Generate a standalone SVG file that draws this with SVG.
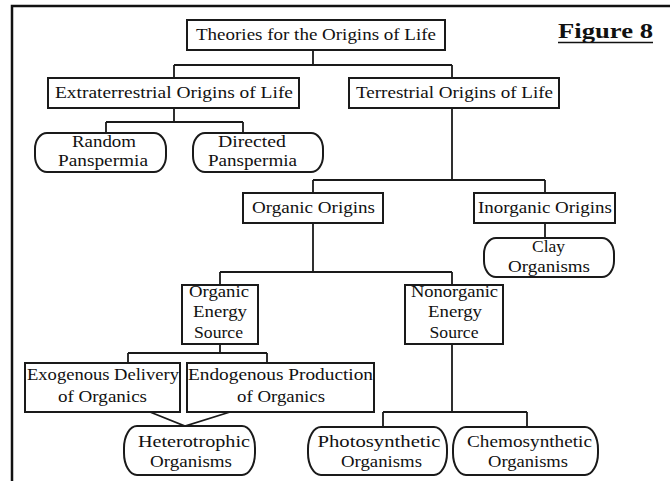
<svg xmlns="http://www.w3.org/2000/svg" width="670" height="481" viewBox="0 0 670 481">
<style>
.bx{fill:#fff;stroke:#1a1a1a;stroke-width:2}
.cn{fill:none;stroke:#1a1a1a;stroke-width:1.8}
.fr{fill:none;stroke:#111;stroke-width:2.5}
text{font-family:"Liberation Serif","DejaVu Serif",serif;font-size:17.5px;fill:#111;text-anchor:middle}
.sm{font-size:16.5px}
.fig{font-weight:bold;font-size:22px;text-anchor:start}
</style>
<rect width="670" height="481" fill="#fff"/>
<path class="fr" d="M12 481 V6 H670"/>
<g id="connectors">
<path class="cn" d="M313 50 V65 M174 65 H452 M174 65 V78 M452 65 V78"/>
<path class="cn" d="M174 108 V122 M106 122 H243 M106 122 V133 M243 122 V133"/>
<path class="cn" d="M452 108 V180 M313 180 H545 M313 180 V193 M545 180 V193"/>
<path class="cn" d="M545 223 V238"/>
<path class="cn" d="M313 223 V272 M220 272 H452 M220 272 V285 M452 272 V285"/>
<path class="cn" d="M220 344 V353 M128 353 H267 M128 353 V363 M267 353 V363"/>
<path class="cn" d="M452 344 V412 M383 412 H527 M383 412 V427 M527 412 V427"/>
<path class="cn" d="M150 412 L185 426 L230 412"/>
</g>
<g id="title">
<rect class="bx" x="187" y="20" width="258" height="30"/>
<text x="316" y="40" textLength="240" lengthAdjust="spacingAndGlyphs">Theories for the Origins of Life</text>
</g>
<g id="figure-label">
<text class="fig" x="558" y="38" textLength="95" lengthAdjust="spacingAndGlyphs">Figure 8</text>
<path d="M558 42.5 H653" stroke="#111" stroke-width="1.6"/>
</g>
<g id="extraterrestrial">
<rect class="bx" x="48" y="78" width="251" height="30"/>
<text x="174" y="98" textLength="238" lengthAdjust="spacingAndGlyphs">Extraterrestrial Origins of Life</text>
</g>
<g id="terrestrial">
<rect class="bx" x="349" y="78" width="210" height="30"/>
<text x="454.5" y="98" textLength="197" lengthAdjust="spacingAndGlyphs">Terrestrial Origins of Life</text>
</g>
<g id="random">
<rect class="bx" x="35" y="133" width="131" height="39" rx="12" ry="16"/>
<text class="sm" x="104" y="147" textLength="64" lengthAdjust="spacingAndGlyphs">Random</text>
<text class="sm" x="103" y="166" textLength="90" lengthAdjust="spacingAndGlyphs">Panspermia</text>
</g>
<g id="directed">
<rect class="bx" x="193" y="133" width="130" height="39" rx="12" ry="16"/>
<text class="sm" x="252" y="147" textLength="68" lengthAdjust="spacingAndGlyphs">Directed</text>
<text class="sm" x="252.5" y="166" textLength="89" lengthAdjust="spacingAndGlyphs">Panspermia</text>
</g>
<g id="organic-origins">
<rect class="bx" x="243" y="193" width="140" height="30"/>
<text x="313.5" y="213" textLength="123" lengthAdjust="spacingAndGlyphs">Organic Origins</text>
</g>
<g id="inorganic-origins">
<rect class="bx" x="474" y="193" width="141" height="30"/>
<text x="545" y="213" textLength="134" lengthAdjust="spacingAndGlyphs">Inorganic Origins</text>
</g>
<g id="clay">
<rect class="bx" x="484" y="238" width="130" height="39" rx="12" ry="16"/>
<text x="548.5" y="252" textLength="33" lengthAdjust="spacingAndGlyphs">Clay</text>
<text x="549" y="272" textLength="82" lengthAdjust="spacingAndGlyphs">Organisms</text>
</g>
<g id="organic-energy">
<rect class="bx" x="182" y="285" width="76" height="59"/>
<text x="219" y="297" textLength="60" lengthAdjust="spacingAndGlyphs">Organic</text>
<text x="220" y="317" textLength="54" lengthAdjust="spacingAndGlyphs">Energy</text>
<text x="218.5" y="338" textLength="49" lengthAdjust="spacingAndGlyphs">Source</text>
</g>
<g id="nonorganic-energy">
<rect class="bx" x="405" y="285" width="98" height="59"/>
<text x="454.5" y="297" textLength="87" lengthAdjust="spacingAndGlyphs">Nonorganic</text>
<text x="455" y="317" textLength="54" lengthAdjust="spacingAndGlyphs">Energy</text>
<text x="454" y="338" textLength="49" lengthAdjust="spacingAndGlyphs">Source</text>
</g>
<g id="exogenous">
<rect class="bx" x="25" y="363" width="155" height="49"/>
<text x="103" y="380" textLength="152" lengthAdjust="spacingAndGlyphs">Exogenous Delivery</text>
<text x="102.5" y="402" textLength="89" lengthAdjust="spacingAndGlyphs">of Organics</text>
</g>
<g id="endogenous">
<rect class="bx" x="187" y="363" width="187" height="49"/>
<text x="280.5" y="380" textLength="185" lengthAdjust="spacingAndGlyphs">Endogenous Production</text>
<text x="281" y="402" textLength="88" lengthAdjust="spacingAndGlyphs">of Organics</text>
</g>
<g id="heterotrophic">
<rect class="bx" x="124" y="426" width="131" height="49" rx="13" ry="22"/>
<text x="194" y="447" textLength="112" lengthAdjust="spacingAndGlyphs">Heterotrophic</text>
<text x="191" y="467" textLength="82" lengthAdjust="spacingAndGlyphs">Organisms</text>
</g>
<g id="photosynthetic">
<rect class="bx" x="308" y="427" width="139" height="48" rx="13" ry="22"/>
<text x="379" y="447" textLength="123" lengthAdjust="spacingAndGlyphs">Photosynthetic</text>
<text x="381.5" y="467" textLength="81" lengthAdjust="spacingAndGlyphs">Organisms</text>
</g>
<g id="chemosynthetic">
<rect class="bx" x="453" y="427" width="145" height="48" rx="13" ry="22"/>
<text x="529.5" y="447" textLength="125" lengthAdjust="spacingAndGlyphs">Chemosynthetic</text>
<text x="528" y="467" textLength="80" lengthAdjust="spacingAndGlyphs">Organisms</text>
</g>
</svg>
